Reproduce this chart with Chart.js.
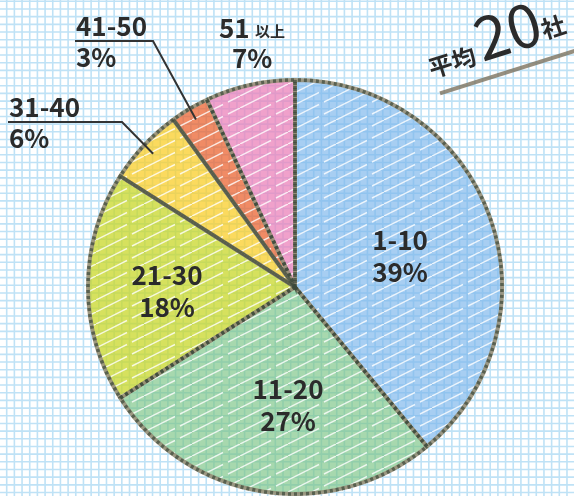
<!DOCTYPE html>
<html>
<head>
<meta charset="utf-8">
<script src="https://cdn.jsdelivr.net/npm/chart.js@4.4.1/dist/chart.umd.min.js"></script>
<style>
    html, body { margin: 0; padding: 0; background: #fff; }
</style>
</head>
<body>
<canvas id="chartPie" width="574" height="496"></canvas>
<script>
/* dados */
const categories = ['1-10', '11-20', '21-30', '31-40', '41-50', '51以上'];
const shares = [39, 27, 18, 6, 3, 7];
const percentLabels = ['39%', '27%', '18%', '6%', '3%', '7%'];
const averageText = ['平均', '20', '社'];

const fillColors = [
    'rgba(120, 180, 235, 0.65)',
    'rgba(120, 195, 130, 0.65)',
    'rgba(200, 215, 40, 0.75)',
    'rgba(250, 205, 40, 0.75)',
    'rgba(235, 100, 50, 0.75)',
    'rgba(235, 130, 185, 0.75)'
];

const FONT = "'Noto Sans CJK JP', 'Noto Sans', sans-serif";
const TEXT_COLOR = '#2b2b2b';

/* hachura branca tipo lapis */
function hatch(color) {
    const c = document.createElement('canvas');
    c.width = 48; c.height = 12;
    const g = c.getContext('2d');
    g.fillStyle = color;
    g.fillRect(0, 0, 48, 12);
    g.strokeStyle = 'rgba(255, 255, 255, 0.8)';
    g.lineWidth = 1.4;
    g.beginPath();
    g.moveTo(-2, 13); g.lineTo(26, -1);
    g.moveTo(22, 13); g.lineTo(31, 8.5);
    g.moveTo(36, 6); g.lineTo(50, -1);
    g.stroke();
    return g.createPattern(c, 'repeat');
}

/* papel quadriculado */
const gridPaper = {
    id: 'gridPaper',
    beforeDraw(chart) {
        const { ctx, width, height } = chart;
        ctx.save();
        ctx.fillStyle = '#fff';
        ctx.fillRect(0, 0, width, height);
        ctx.strokeStyle = '#bfe2f6';
        ctx.lineWidth = 1.6;
        ctx.beginPath();
        for (let x = 6.7; x < width; x += 7.675) { ctx.moveTo(x, 0); ctx.lineTo(x, height); }
        for (let y = 1.3; y < height; y += 7.675) { ctx.moveTo(0, y); ctx.lineTo(width, y); }
        ctx.stroke();
        ctx.restore();
    }
};

/* borda tracejada por cima */
const sketchBorder = {
    id: 'sketchBorder',
    afterDatasetsDraw(chart) {
        const ctx = chart.ctx;
        chart.getDatasetMeta(0).data.forEach(arc => {
            const p = arc.getProps(['x', 'y', 'startAngle', 'endAngle', 'outerRadius']);
            ctx.save();
            ctx.beginPath();
            ctx.moveTo(p.x, p.y);
            ctx.arc(p.x, p.y, p.outerRadius, p.startAngle, p.endAngle);
            ctx.closePath();
            ctx.setLineDash([3, 3]);
            ctx.strokeStyle = 'rgba(60, 72, 58, 0.7)';
            ctx.lineWidth = 3.5;
            ctx.stroke();
            ctx.restore();
        });
    }
};

/* rotulos */
const insideSpots = [[400, 250], [288, 399], [167, 285]];
const outsideSpots = { 3: [9, 117], 4: [76, 36] };

const pieLabels = {
    id: 'pieLabels',
    afterDraw(chart) {
        const ctx = chart.ctx;
        const arcs = chart.getDatasetMeta(0).data;
        ctx.save();
        ctx.fillStyle = TEXT_COLOR;
        ctx.font = 'bold 26px ' + FONT;
        ctx.textBaseline = 'alphabetic';

        // dentro
        ctx.textAlign = 'center';
        insideSpots.forEach((s, i) => {
            ctx.fillText(categories[i], s[0], s[1]);
            ctx.fillText(percentLabels[i], s[0], s[1] + 32);
        });

        // fora com linha guia
        ctx.textAlign = 'left';
        Object.keys(outsideSpots).forEach(k => {
            const i = +k;
            const s = outsideSpots[i];
            ctx.font = 'bold 26px ' + FONT;
            ctx.fillText(categories[i], s[0], s[1]);
            ctx.fillText(percentLabels[i], s[0], s[1] + 31);
            const p = arcs[i].getProps(['x', 'y', 'startAngle', 'endAngle', 'outerRadius']);
            const mid = (p.startAngle + p.endAngle) / 2;
            const ex = p.x + Math.cos(mid) * p.outerRadius * 0.94;
            const ey = p.y + Math.sin(mid) * p.outerRadius * 0.94;
            const uy = s[1] + 5;
            const knee = i === 3 ? 122 : 153;
            ctx.strokeStyle = '#333';
            ctx.lineWidth = 2;
            ctx.beginPath();
            ctx.moveTo(s[0] - 1, uy);
            ctx.lineTo(knee, uy);
            ctx.lineTo(ex, ey);
            ctx.stroke();
        });

        // 51以上
        ctx.font = 'bold 26px ' + FONT;
        ctx.fillText('51', 219, 38);
        ctx.font = 'bold 15px ' + FONT;
        ctx.fillText(categories[5].replace('51', ''), 255, 37);
        ctx.font = 'bold 26px ' + FONT;
        ctx.fillText(percentLabels[5], 232, 68);

        // 平均20社
        ctx.translate(432, 78);
        ctx.rotate(-17.5 * Math.PI / 180);
        ctx.font = 'bold 24px ' + FONT;
        ctx.fillText(averageText[0], 0, 0);
        ctx.font = '400 60px ' + FONT;
        ctx.fillText(averageText[1], 53, 0);
        ctx.font = 'bold 24px ' + FONT;
        ctx.fillText(averageText[2], 119, -3);
        ctx.strokeStyle = 'rgba(125, 115, 95, 0.8)';
        ctx.lineWidth = 4;
        ctx.beginPath();
        ctx.moveTo(3, 17);
        ctx.lineTo(170, 17);
        ctx.stroke();
        ctx.restore();
    }
};

const ctx = document.getElementById('chartPie');
new Chart(ctx, {
    type: 'pie',
    data: {
        labels: categories,
        datasets: [{
            data: shares,
            backgroundColor: fillColors.map(hatch),
            borderColor: 'rgba(150, 143, 120, 0.9)',
            borderWidth: 4
        }]
    },
    options: {
        responsive: false,
        animation: false,
        layout: {
            padding: { left: 86, right: 70, top: 78, bottom: 0 }
        },
        plugins: {
            legend: { display: false },
            tooltip: { enabled: false }
        }
    },
    plugins: [gridPaper, sketchBorder, pieLabels]
});
</script>
</body>
</html>
